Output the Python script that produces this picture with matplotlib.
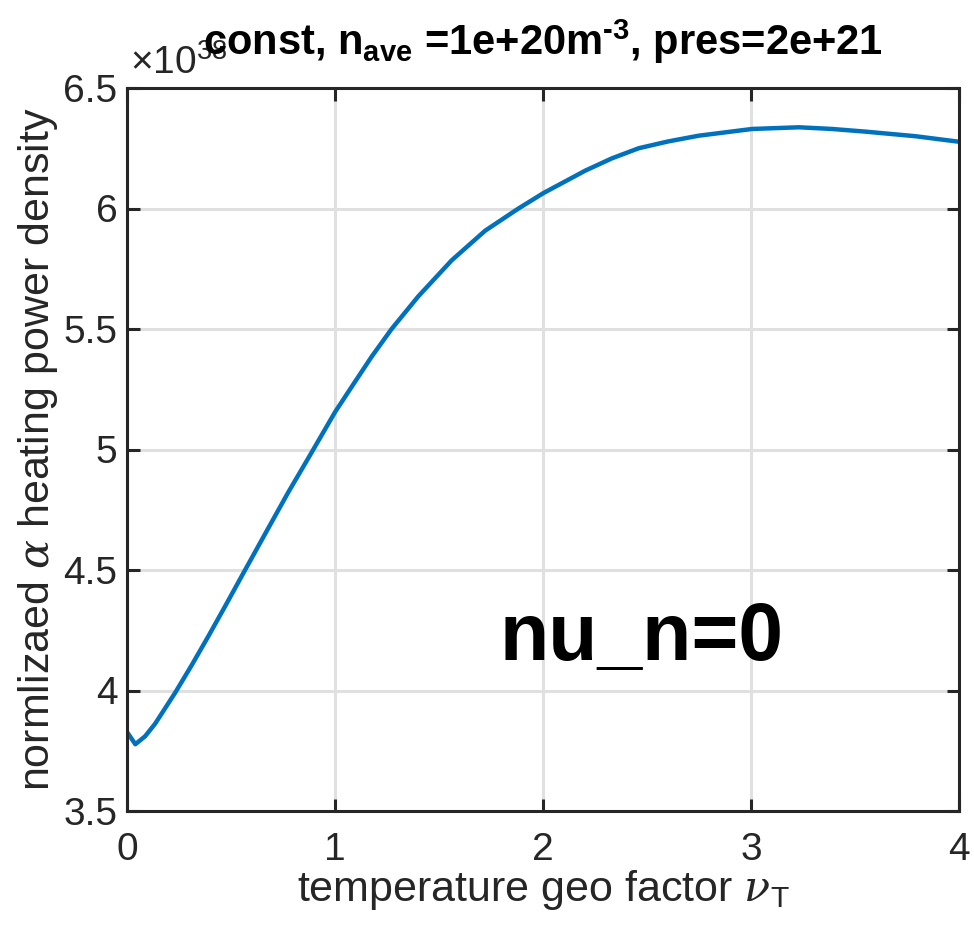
import matplotlib
matplotlib.use("Agg")
import matplotlib.pyplot as plt

# data (values in units of 1e38)
nu_T = [0.0, 0.04, 0.087, 0.135, 0.231, 0.311, 0.391, 0.472, 0.56, 0.648, 0.695, 0.775,
        0.879, 1.0, 1.08, 1.176, 1.272, 1.40, 1.561, 1.722, 1.882, 2.002, 2.203,
        2.331, 2.46, 2.60, 2.748, 3.005, 3.23, 3.39, 3.55, 3.79, 4.0]
power = [3.828, 3.777, 3.81, 3.862, 3.99, 4.105, 4.225, 4.35, 4.488, 4.625, 4.698, 4.822,
         4.975, 5.155, 5.26, 5.385, 5.5, 5.635, 5.785, 5.908, 6.0, 6.064, 6.157,
         6.208, 6.25, 6.278, 6.302, 6.33, 6.337, 6.33, 6.319, 6.30, 6.277]
xticks = [0, 1, 2, 3, 4]
yticks = [3.5, 4, 4.5, 5, 5.5, 6, 6.5]
ytick_labels = ["3.5", "4", "4.5", "5", "5.5", "6", "6.5"]

plt.rcParams['font.family'] = ['Liberation Sans', 'DejaVu Sans']
plt.rcParams['mathtext.fontset'] = 'custom'
plt.rcParams['mathtext.rm'] = 'Liberation Sans'
plt.rcParams['mathtext.bf'] = 'Liberation Sans:bold'
plt.rcParams['mathtext.it'] = 'DejaVu Serif:italic'

fig = plt.figure(figsize=(9.74, 9.36), dpi=100)
ax = fig.add_axes([127/974, 1-811/936, (959-127)/974, (811-88)/936])

ax.plot(nu_T, power, color='#0072BD', lw=3.2, solid_joinstyle='round')
ax.set_xlim(0, 4)
ax.set_ylim(3.5, 6.5)
ax.set_xticks(xticks)
ax.set_yticks(yticks)
ax.set_yticklabels(ytick_labels)
ax.grid(True, color='#e0e0e0', lw=2.2)
ax.set_axisbelow(True)
for s in ax.spines.values():
    s.set_color('#262626')
    s.set_linewidth(2.2)
ax.tick_params(direction='in', length=9, width=2.2, color='#262626',
               labelsize=28, labelcolor='#262626', top=True, right=True)
ax.tick_params(axis='x', pad=15)
ax.tick_params(axis='y', pad=7)

ax.set_xlabel(r'temperature geo factor $\nu_{\mathrm{T}}$', fontsize=31, color='#262626', labelpad=0)
ax.set_ylabel(r'normlizaed $\alpha$ heating power density', fontsize=31, color='#262626', labelpad=2)

ax.text(0.004, 1.008, r'$\times10^{38}$', transform=ax.transAxes, fontsize=28,
        color='#262626', ha='left', va='bottom')

ax.set_title('const, n$_{\\mathbf{ave}}$ =1e+20m$^{\\mathbf{\u20103}}$, pres=2e+21',
             fontsize=30, fontweight='bold', pad=24)

ax.text(0.448, 0.209, 'nu_n=0', transform=ax.transAxes, fontsize=58,
        fontweight='bold', color='black', ha='left', va='baseline')

fig.savefig('out.png', dpi=100)
